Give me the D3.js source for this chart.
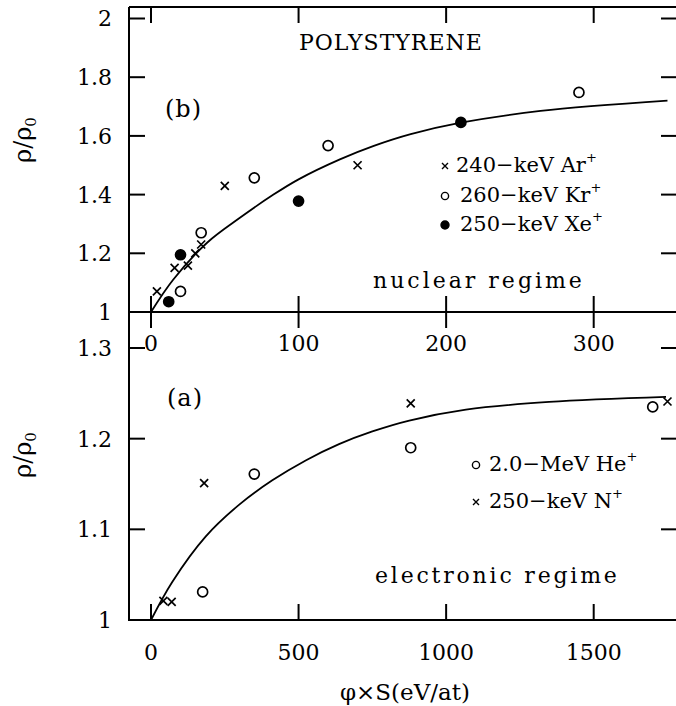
<!DOCTYPE html>
<html>
<head>
<meta charset="utf-8">
<script src="https://cdn.jsdelivr.net/npm/d3@7"></script>
<style>
  body { margin: 0; background: #fff; }
  svg text { font-family: "DejaVu Serif", serif; fill: #000; }
</style>
</head>
<body>
<svg id="chart" width="676" height="706"></svg>
<script>
// ---- data ----
// (b) nuclear regime, x = phi*S in eV/at
var arPts = [[4, 1.07], [16, 1.15], [25, 1.158], [30, 1.20], [34, 1.23], [50, 1.43], [140, 1.50]]
var krPts = [[20, 1.07], [34, 1.27], [70, 1.457], [120, 1.567], [290, 1.748]]
var xePts = [[12, 1.035], [20, 1.195], [100, 1.378], [210, 1.646]]
var nucCurve = [[0, 1.0], [15, 1.11], [38, 1.236], [60, 1.32], [83, 1.40], [100, 1.452], [128, 1.52],
                [151, 1.566], [176, 1.606], [210, 1.645], [264, 1.685], [350, 1.72]]

// (a) electronic regime
var hePts = [[175, 1.031], [350, 1.161], [880, 1.19], [1700, 1.235]]
var nPts = [[42, 1.021], [70, 1.02], [180, 1.151], [880, 1.239], [1750, 1.241]]
var eleCurve = [[0, 1.0], [72, 1.042], [185, 1.092], [298, 1.127], [411, 1.154], [524, 1.176], [637, 1.194],
                [750, 1.208], [875, 1.220], [1067, 1.232], [1349, 1.2405], [1745, 1.246]]

var topXTicks = [0, 100, 200, 300]
var botXTicks = [0, 500, 1000, 1500]
var topYTicks = [1, 1.2, 1.4, 1.6, 1.8, 2]
var botYTicks = [1, 1.1, 1.2, 1.3]
var topYLabels = ["1", "1.2", "1.4", "1.6", "1.8", "2"]
var botYLabels = ["1", "1.1", "1.2", "1.3"]

// ---- layout ----
const fLeft = 129, fRight = 677, fTop = 7, fMid = 312, fBottom = 620
const tick = 16

const svg = d3.select('#chart')

const xTop = d3.scaleLinear().domain([0, 300]).range([151, 593.7])
const xBot = d3.scaleLinear().domain([0, 1500]).range([151, 593.7])
const yTop = d3.scaleLinear().domain([1, 2]).range([fMid, fMid - 293.5])
const yBot = d3.scaleLinear().domain([1, 1.3]).range([fBottom, fBottom - 272])

// frames
svg.append('path')
  .attr('d', `M${fLeft},${fTop}H${fRight}M${fLeft},${fTop}V${fBottom}H${fRight}M${fLeft},${fMid}H${fRight}`)
  .attr('fill', 'none').attr('stroke', '#000').attr('stroke-width', 2)

function xTicks(g, scale, vals, y, dir) {
  g.selectAll(null).data(vals).enter().append('line')
    .attr('x1', d => scale(d)).attr('x2', d => scale(d))
    .attr('y1', y).attr('y2', y + dir * tick)
    .attr('stroke', '#000').attr('stroke-width', 2)
}
function yTicks(g, scale, vals) {
  g.selectAll(null).data(vals).enter().append('line')
    .attr('x1', fLeft).attr('x2', fLeft + tick)
    .attr('y1', d => scale(d)).attr('y2', d => scale(d))
    .attr('stroke', '#000').attr('stroke-width', 2)
  g.selectAll(null).data(vals).enter().append('line')
    .attr('x1', fRight).attr('x2', fRight - tick)
    .attr('y1', d => scale(d)).attr('y2', d => scale(d))
    .attr('stroke', '#000').attr('stroke-width', 2)
}

const axes = svg.append('g')
xTicks(axes, xTop, topXTicks, fTop, 1)
xTicks(axes, xTop, topXTicks, fMid, -1)
xTicks(axes, xBot, botXTicks, fMid, 1)
xTicks(axes, xBot, botXTicks, fBottom, -1)
yTicks(axes, yTop, topYTicks.filter(d => d > 1))
yTicks(axes, yBot, botYTicks.filter(d => d > 1))

// tick labels
axes.selectAll(null).data(topXTicks).enter().append('text')
  .attr('x', d => xTop(d)).attr('y', 351)
  .attr('text-anchor', 'middle').style('font-size', '22px').text(d => d)
axes.selectAll(null).data(botXTicks).enter().append('text')
  .attr('x', d => xBot(d)).attr('y', 660)
  .attr('text-anchor', 'middle').style('font-size', '22px').text(d => d)
axes.selectAll(null).data(topYTicks).enter().append('text')
  .attr('x', 112).attr('y', d => yTop(d)).attr('dy', '0.36em')
  .attr('text-anchor', 'end').style('font-size', '22px').text((d, i) => topYLabels[i])
axes.selectAll(null).data(botYTicks).enter().append('text')
  .attr('x', 112).attr('y', d => yBot(d)).attr('dy', '0.36em')
  .attr('text-anchor', 'end').style('font-size', '22px').text((d, i) => botYLabels[i])

// axis titles
function rhoTitle(cy) {
  const t = svg.append('text')
    .attr('transform', `translate(31,${cy}) rotate(-90)`)
    .attr('text-anchor', 'middle').style('font-size', '24px')
  t.append('tspan').text('ρ/ρ')
  t.append('tspan').attr('dy', 5).style('font-size', '15px').text('0')
}
rhoTitle(140)
rhoTitle(455)

svg.append('text').attr('x', 405).attr('y', 700).attr('text-anchor', 'middle')
  .style('font-size', '23px').text('φ×S(eV/at)')

// curves
const nucLine = d3.line().x(d => xTop(d[0])).y(d => yTop(d[1])).curve(d3.curveCatmullRom.alpha(0.5))
const eleLine = d3.line().x(d => xBot(d[0])).y(d => yBot(d[1])).curve(d3.curveCatmullRom.alpha(0.5))
svg.append('path').attr('d', nucLine(nucCurve)).attr('fill', 'none').attr('stroke', '#000').attr('stroke-width', 1.8)
svg.append('path').attr('d', eleLine(eleCurve)).attr('fill', 'none').attr('stroke', '#000').attr('stroke-width', 1.8)

// markers
function crosses(data, xs, ys, s) {
  svg.append('g').selectAll('path').data(data).enter().append('path')
    .attr('d', d => { const x = xs(d[0]), y = ys(d[1]); return `M${x - s},${y - s}L${x + s},${y + s}M${x - s},${y + s}L${x + s},${y - s}` })
    .attr('stroke', '#000').attr('stroke-width', 1.7)
}
function circles(data, xs, ys, r, filled) {
  svg.append('g').selectAll('circle').data(data).enter().append('circle')
    .attr('cx', d => xs(d[0])).attr('cy', d => ys(d[1])).attr('r', r)
    .attr('fill', filled ? '#000' : 'none').attr('stroke', '#000').attr('stroke-width', 1.7)
}
crosses(arPts, xTop, yTop, 4)
circles(krPts, xTop, yTop, 5, false)
circles(xePts, xTop, yTop, 5, true)
crosses(nPts, xBot, yBot, 4)
circles(hePts, xBot, yBot, 5, false)

// legends
function legendItem(x, y, kind, tx, label) {
  if (kind === 'x') {
    svg.append('path').attr('d', `M${x - 3},${y - 3}L${x + 3},${y + 3}M${x - 3},${y + 3}L${x + 3},${y - 3}`)
      .attr('stroke', '#000').attr('stroke-width', 1.4)
  } else {
    svg.append('circle').attr('cx', x).attr('cy', y).attr('r', kind === 'o' ? 3.6 : 4)
      .attr('fill', kind === 'o' ? 'none' : '#000').attr('stroke', '#000').attr('stroke-width', 1.4)
  }
  const t = svg.append('text').attr('x', tx).attr('y', y + 6).style('font-size', '21px')
  t.append('tspan').text(label)
  t.append('tspan').attr('dy', -10).style('font-size', '13px').text('+')
}
legendItem(445, 166, 'x', 456, '240−keV Ar')
legendItem(445, 196, 'o', 460, '260−keV Kr')
legendItem(445, 225, '.', 460, '250−keV Xe')
legendItem(476, 465, 'o', 489, '2.0−MeV He')
legendItem(476, 502, 'x', 489, '250−keV N')

// annotations
svg.append('text').attr('x', 299).attr('y', 50).style('font-size', '22px').style('letter-spacing', '1px').text('POLYSTYRENE')
svg.append('text').attr('x', 165).attr('y', 117).style('font-size', '24px').style('letter-spacing', '1px').text('(b)')
svg.append('text').attr('x', 167).attr('y', 406).style('font-size', '24px').style('letter-spacing', '1px').text('(a)')
svg.append('text').attr('x', 373).attr('y', 288).style('font-size', '22px').style('letter-spacing', '3px').text('nuclear regime')
svg.append('text').attr('x', 375).attr('y', 583).style('font-size', '22px').style('letter-spacing', '2.8px').text('electronic regime')
</script>
</body>
</html>
